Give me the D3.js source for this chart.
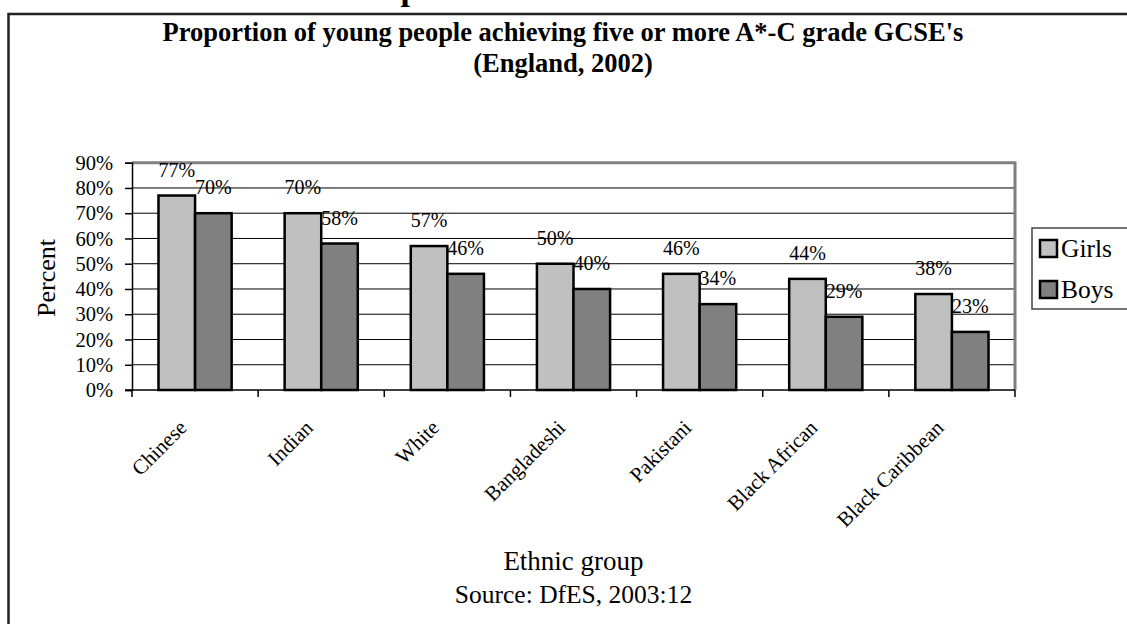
<!DOCTYPE html>
<html>
<head>
<meta charset="utf-8">
<script src="https://cdn.jsdelivr.net/npm/d3@7"></script>
<style>
  html, body { margin: 0; padding: 0; background: #fff; }
  svg { display: block; }
  text { font-family: "Liberation Serif", "Times New Roman", serif; fill: #000; }
</style>
</head>
<body>
<svg id="chart" width="1127" height="624"></svg>
<script>
// ---- data ----
const categories = ["Chinese", "Indian", "White", "Bangladeshi", "Pakistani", "Black African", "Black Caribbean"];
const girls = [77, 70, 57, 50, 46, 44, 38];
const boys  = [70, 58, 46, 40, 34, 29, 23];
const seriesNames = ["Girls", "Boys"];
const yTicks = [0, 10, 20, 30, 40, 50, 60, 70, 80, 90];
const titleLines = ["Proportion of young people achieving five or more A*-C grade GCSE's", "(England, 2002)"];
const xTitle = "Ethnic group";
const yTitle = "Percent";
const sourceText = "Source: DfES, 2003:12";

const colors = ["#C0C0C0", "#808080"];
const series = [girls, boys];

const svg = d3.select("#chart");

// cut-off heading fragment at very top (cut off in the reference too)
svg.append("text").attr("x", 410).attr("y", 0)
  .attr("text-anchor", "middle").style("font-size", "34px").style("font-weight", "bold").text("p");

// outer frame
svg.append("rect").attr("x", 8.5).attr("y", 14).attr("width", 1140).attr("height", 640)
  .attr("fill", "none").attr("stroke", "#222").attr("stroke-width", 2.5);

// titles
const tcx = 563;
svg.append("text").attr("x", tcx).attr("y", 41).attr("text-anchor", "middle")
  .style("font-size", "26.5px").style("font-weight", "bold").text(titleLines[0]);
svg.append("text").attr("x", tcx).attr("y", 72).attr("text-anchor", "middle")
  .style("font-size", "26.5px").style("font-weight", "bold").text(titleLines[1]);

// plot area
const L = 132, R = 1015, T = 162.7, B = 390;
const y = d3.scaleLinear().domain([0, 90]).range([B, T]);
const x0 = d3.scaleBand().domain(categories).range([L, R]).paddingInner(0).paddingOuter(0);
const groupFrac = 0.58;
const x1 = d3.scaleBand().domain(seriesNames)
  .range([x0.bandwidth() * (1 - groupFrac) / 2, x0.bandwidth() * (1 + groupFrac) / 2]);

// gridlines
svg.append("g").selectAll("line").data(yTicks.filter(d => d > 0 && d < 90)).join("line")
  .attr("x1", L).attr("x2", R).attr("y1", d => y(d)).attr("y2", d => y(d))
  .attr("stroke", "#000").attr("stroke-width", 1);

// plot border (gray) top & right
svg.append("path")
  .attr("d", `M${L},${T}H${R}V${B}`)
  .attr("fill", "none").attr("stroke", "#808080").attr("stroke-width", 3);

// bars
const gBars = svg.append("g");
categories.forEach((c, i) => {
  seriesNames.forEach((s, j) => {
    const v = series[j][i];
    gBars.append("rect")
      .attr("x", x0(c) + x1(s))
      .attr("y", y(v))
      .attr("width", x1.bandwidth())
      .attr("height", y(0) - y(v))
      .attr("fill", colors[j])
      .attr("stroke", "#000").attr("stroke-width", 2.5);
  });
});

// data labels
const gLab = svg.append("g");
categories.forEach((c, i) => {
  seriesNames.forEach((s, j) => {
    const v = series[j][i];
    gLab.append("text")
      .attr("x", x0(c) + x1(s) + x1.bandwidth() / 2)
      .attr("y", y(v) - 19)
      .attr("text-anchor", "middle")
      .style("font-size", "20px")
      .text(v + "%");
  });
});

// y axis
const yAxis = d3.axisLeft(y).tickValues(yTicks).tickSize(7).tickPadding(12).tickFormat(d => d + "%");
const gy = svg.append("g").attr("transform", `translate(${L},0)`).call(yAxis);
gy.select(".domain").attr("stroke", "#000").attr("stroke-width", 1.5);
gy.selectAll(".tick line").attr("stroke", "#000").attr("stroke-width", 1.5);
gy.selectAll(".tick text").style("font-family", "'Liberation Serif', serif").style("font-size", "20.5px").attr("fill", "#000");

// x axis: ticks at category boundaries
const boundaries = categories.map(c => x0(c)).concat([R]);
const gx = svg.append("g");
gx.append("line").attr("x1", L - 7).attr("x2", R).attr("y1", B).attr("y2", B)
  .attr("stroke", "#000").attr("stroke-width", 1.5);
gx.selectAll("line.tk").data(boundaries).join("line").attr("class", "tk")
  .attr("x1", d => d).attr("x2", d => d).attr("y1", B).attr("y2", B + 7)
  .attr("stroke", "#000").attr("stroke-width", 1.5);
gx.selectAll("text").data(categories).join("text")
  .attr("text-anchor", "end")
  .attr("transform", d => `translate(${x0(d) + x0.bandwidth() / 2 - 7},429) rotate(-45)`)
  .style("font-size", "21px")
  .text(d => d);

// axis titles
svg.append("text").attr("transform", `translate(55,278) rotate(-90)`)
  .attr("text-anchor", "middle").style("font-size", "26px").text(yTitle);
svg.append("text").attr("x", (L + R) / 2).attr("y", 570).attr("text-anchor", "middle")
  .style("font-size", "27px").text(xTitle);
svg.append("text").attr("x", (L + R) / 2).attr("y", 603).attr("text-anchor", "middle")
  .style("font-size", "25.5px").text(sourceText);

// legend
const lg = svg.append("g");
lg.append("rect").attr("x", 1032).attr("y", 228).attr("width", 110).attr("height", 81)
  .attr("fill", "#fff").attr("stroke", "#444").attr("stroke-width", 1.5);
seriesNames.forEach((s, j) => {
  const yy = 240 + j * 41;
  lg.append("rect").attr("x", 1040).attr("y", yy).attr("width", 17).attr("height", 17)
    .attr("fill", colors[j]).attr("stroke", "#000").attr("stroke-width", 2.5);
  lg.append("text").attr("x", 1061).attr("y", yy + 17).style("font-size", "25.5px").text(s);
});
</script>
</body>
</html>
